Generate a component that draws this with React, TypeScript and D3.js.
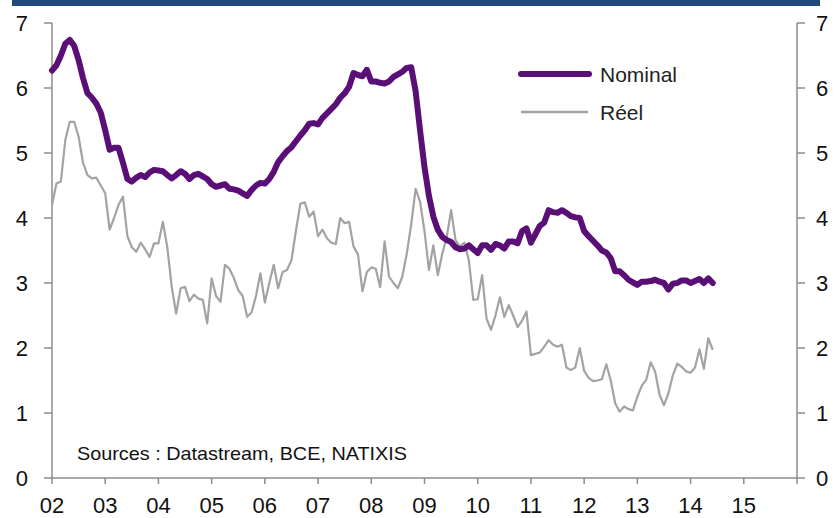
import React from "react";
import * as d3 from "d3";

// Monthly data, starting January 2002
const startYear = 2002;
const nominal = [
  6.27, 6.35, 6.5, 6.68, 6.74, 6.65, 6.43, 6.15, 5.92, 5.85, 5.76, 5.62,
  5.35, 5.05, 5.08, 5.08, 4.85, 4.6, 4.56, 4.62, 4.66, 4.63, 4.7, 4.74,
  4.73, 4.72, 4.66, 4.61, 4.66, 4.72, 4.68, 4.6, 4.66, 4.68, 4.64, 4.6,
  4.52, 4.48, 4.5, 4.52, 4.45, 4.44, 4.42, 4.38, 4.34, 4.43, 4.5, 4.54,
  4.53, 4.6, 4.71, 4.86, 4.95, 5.03, 5.09, 5.18, 5.27, 5.35, 5.45, 5.46,
  5.44, 5.54, 5.61, 5.68, 5.75, 5.85, 5.92, 6.02, 6.23, 6.2, 6.18, 6.28,
  6.1, 6.1, 6.08, 6.07, 6.1, 6.17, 6.21, 6.25, 6.31, 6.32, 5.95, 5.35,
  4.78, 4.34, 4.02, 3.82, 3.71, 3.66, 3.63, 3.55, 3.52, 3.53, 3.58, 3.52,
  3.46, 3.58, 3.58, 3.51, 3.6, 3.58, 3.53, 3.64, 3.64, 3.61, 3.8, 3.84,
  3.62, 3.75, 3.88, 3.93, 4.12, 4.09, 4.08, 4.12, 4.08, 4.03, 4.01, 4.0,
  3.8, 3.72, 3.65, 3.58, 3.5, 3.47, 3.38, 3.18, 3.18, 3.12, 3.05, 3.01,
  2.97, 3.02, 3.02, 3.03, 3.05, 3.02, 3.0, 2.9, 2.99, 3.0, 3.04, 3.04,
  3.0, 3.03, 3.06, 3.0, 3.07, 3.0,
];
const reel = [
  4.2, 4.53, 4.56, 5.2, 5.48, 5.48, 5.25, 4.85, 4.66, 4.61, 4.62, 4.5,
  4.38, 3.82, 4.0, 4.2, 4.33, 3.72, 3.55, 3.48, 3.62, 3.52, 3.4, 3.61,
  3.61, 3.94, 3.55, 2.94, 2.53, 2.92, 2.94, 2.72, 2.82, 2.76, 2.74, 2.38,
  3.07, 2.8, 2.71, 3.28, 3.22, 3.08, 2.89, 2.8, 2.48, 2.55, 2.8, 3.15,
  2.7, 3.0, 3.28, 2.92, 3.17, 3.2, 3.35, 3.8, 4.22, 4.24, 4.02, 4.1,
  3.72, 3.82, 3.69, 3.62, 3.6, 4.0, 3.92, 3.94, 3.56, 3.44, 2.87, 3.17,
  3.24, 3.22, 2.94, 3.64, 3.1, 3.0, 2.92, 3.1, 3.45, 3.9, 4.45, 4.25,
  3.8, 3.2, 3.58, 3.12, 3.45, 3.7, 4.12, 3.66, 3.56, 3.62, 3.35, 2.74,
  2.75, 3.12, 2.45, 2.28, 2.5, 2.78, 2.48, 2.66, 2.5, 2.32, 2.42, 2.56,
  1.89, 1.91, 1.93, 2.02, 2.12, 2.05, 2.02, 2.05, 1.7, 1.66, 1.7, 2.0,
  1.65, 1.54, 1.49, 1.5, 1.52, 1.75, 1.5, 1.15, 1.02, 1.1, 1.06, 1.04,
  1.25, 1.42, 1.51, 1.78, 1.64, 1.28, 1.12, 1.3, 1.58, 1.76, 1.71, 1.64,
  1.62, 1.7, 1.98, 1.68, 2.15, 1.97,
];
const xTickYears = [2002, 2003, 2004, 2005, 2006, 2007, 2008, 2009, 2010, 2011, 2012, 2013, 2014, 2015, 2016];
const xTickLabels = ["02", "03", "04", "05", "06", "07", "08", "09", "10", "11", "12", "13", "14", "15", ""];
const yTicks = [0, 1, 2, 3, 4, 5, 6, 7];
const seriesNames = ["Nominal", "Réel"];
const sourceText = "Sources : Datastream, BCE, NATIXIS";

const W = 835;
const H = 518;
const left = 52;
const right = 797;
const top = 23;
const bottom = 478;
const font = "'Liberation Sans', Arial, sans-serif";
const axisColor = "#8c8c8c";
const purple = "#5a0f77";
const grey = "#a3a3a3";

export default function App() {
  const x = d3.scaleLinear().domain([2002, 2016]).range([left, right]);
  const y = d3.scaleLinear().domain([0, 7]).range([bottom, top]);
  const line = d3
    .line<number>()
    .x((_, i) => x(startYear + i / 12))
    .y((d) => y(d))
    .curve(d3.curveLinear);

  return (
    <svg
      width={W}
      height={H}
      style={{ position: "absolute", left: 0, top: 0, background: "#fff" }}
      fontFamily={font}
    >
      <rect x={12} y={0} width={808} height={6} fill="#22497c" />
      {/* axes */}
      <line x1={left} x2={left} y1={top} y2={bottom} stroke={axisColor} strokeWidth={1.5} />
      <line x1={right} x2={right} y1={top} y2={bottom} stroke={axisColor} strokeWidth={1.5} />
      <line x1={left} x2={right} y1={bottom} y2={bottom} stroke={axisColor} strokeWidth={1.5} />
      {yTicks.map((t) => (
        <g key={"y" + t}>
          <line x1={left - 8} x2={left} y1={y(t)} y2={y(t)} stroke={axisColor} strokeWidth={1.5} />
          <line x1={right} x2={right + 8} y1={y(t)} y2={y(t)} stroke={axisColor} strokeWidth={1.5} />
          <text x={28} y={y(t)} dy="0.36em" textAnchor="end" fontSize={22} fill="#111">
            {t}
          </text>
          <text x={816} y={y(t)} dy="0.36em" textAnchor="start" fontSize={22} fill="#111">
            {t}
          </text>
        </g>
      ))}
      {xTickYears.map((yr, i) => (
        <g key={"x" + yr}>
          <line x1={x(yr)} x2={x(yr)} y1={bottom} y2={bottom + 6} stroke={axisColor} strokeWidth={1.5} />
          <text x={x(yr)} y={513} textAnchor="middle" fontSize={22} fill="#111">
            {xTickLabels[i]}
          </text>
        </g>
      ))}
      {/* series */}
      <path d={line(reel) || ""} fill="none" stroke={grey} strokeWidth={2.2} strokeLinejoin="round" />
      <path d={line(nominal) || ""} fill="none" stroke={purple} strokeWidth={6} strokeLinejoin="round" strokeLinecap="round" />
      {/* legend */}
      <line x1={521} x2={589} y1={74} y2={74} stroke={purple} strokeWidth={6} strokeLinecap="round" />
      <text x={600} y={74} dy="0.36em" fontSize={21} fill="#222">
        {seriesNames[0]}
      </text>
      <line x1={521} x2={588} y1={112} y2={112} stroke={grey} strokeWidth={2.5} />
      <text x={600} y={112} dy="0.36em" fontSize={21} fill="#222">
        {seriesNames[1]}
      </text>
      <text x={77} y={453} dy="0.36em" fontSize={19} fill="#111" textLength={330} lengthAdjust="spacingAndGlyphs">
        {sourceText}
      </text>
    </svg>
  );
}
